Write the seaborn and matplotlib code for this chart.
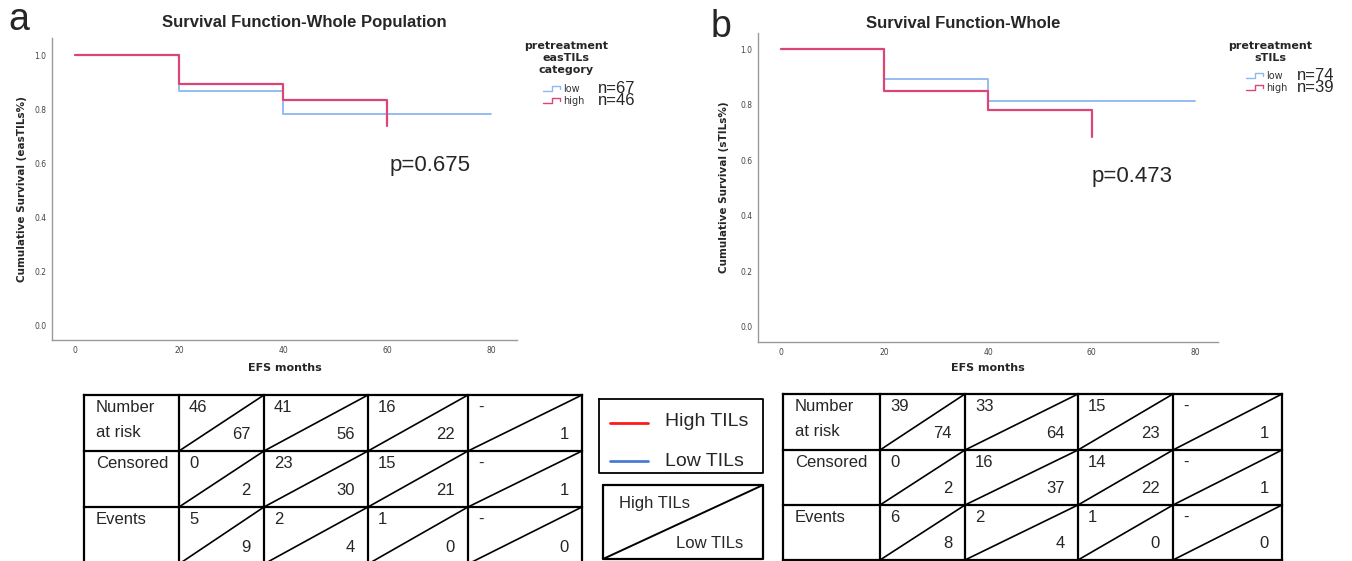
import matplotlib.pyplot as plt
import seaborn as sns

sns.set_theme(style='white')
plt.rcParams['font.family'] = ['DejaVu Sans']

# Kaplan-Meier curves
months_a_high = [0, 20, 40, 60]
surv_a_high = [1.0, 0.895, 0.834, 0.738]
months_a_low = [0, 20, 40, 80]
surv_a_low = [1.0, 0.867, 0.782, 0.782]

months_b_high = [0, 20, 40, 60]
surv_b_high = [1.0, 0.849, 0.781, 0.685]
months_b_low = [0, 20, 40, 80]
surv_b_low = [1.0, 0.891, 0.814, 0.814]

x_ticks = [0, 20, 40, 60, 80]
y_ticks = [0.0, 0.2, 0.4, 0.6, 0.8, 1.0]

# risk tables (upper = high TILs, lower = low TILs)
row_labels = [['Number', 'at risk'], ['Censored'], ['Events']]
a_high = [['46', '41', '16', '-'], ['0', '23', '15', '-'], ['5', '2', '1', '-']]
a_low = [['67', '56', '22', '1'], ['2', '30', '21', '1'], ['9', '4', '0', '0']]
b_high = [['39', '33', '15', '-'], ['0', '16', '14', '-'], ['6', '2', '1', '-']]
b_low = [['74', '64', '23', '1'], ['2', '37', '22', '1'], ['8', '4', '0', '0']]

n_a = ['n=67', 'n=46']
n_b = ['n=74', 'n=39']
p_a = 'p=0.675'
p_b = 'p=0.473'

HIGH_C = '#dc4677'
LOW_C = '#8db8f0'
W, H = 1352, 561
ARIAL = 'Liberation Sans'

fig = plt.figure(figsize=(W / 100, H / 100), dpi=100)


def px(x, y, w, h):
    return [x / W, 1 - (y + h) / H, w / W, h / H]


def km_panel(ax, mh, sh, ml, sl, xlim, ylim, ylabel, ylab_x, xlab_y):
    sns.lineplot(x=ml, y=sl, drawstyle='steps-post', color=LOW_C, lw=1.3, ax=ax)
    sns.lineplot(x=mh, y=sh, drawstyle='steps-post', color=HIGH_C, lw=1.6, ax=ax)
    ax.set_xlim(*xlim)
    ax.set_ylim(*ylim)
    ax.set_xticks(x_ticks)
    ax.set_yticks(y_ticks, [f'{v:.1f}' for v in y_ticks])
    ax.tick_params(axis='both', length=0, labelsize=5.5, labelcolor='#444', pad=4)
    sns.despine(ax=ax)
    for s in ['left', 'bottom']:
        ax.spines[s].set_color('#9a9a9a')
        ax.spines[s].set_linewidth(1.0)
    ax.set_xlabel('EFS months', fontsize=8, fontweight='bold')
    ax.set_ylabel(ylabel, fontsize=7.5, fontweight='bold')
    ax.xaxis.set_label_coords(0.5, xlab_y)
    ax.yaxis.set_label_coords(ylab_x, 0.5)


ax_a = fig.add_axes(px(52, 38, 465, 302))
km_panel(ax_a, months_a_high, surv_a_high, months_a_low, surv_a_low,
         (-4.42, 84.9), (-0.052, 1.063), 'Cumulative Survival (easTILs%)', -0.054, -0.076)

ax_b = fig.add_axes(px(758, 33, 460, 309))
km_panel(ax_b, months_b_high, surv_b_high, months_b_low, surv_b_low,
         (-4.44, 84.44), (-0.054, 1.058), 'Cumulative Survival (sTILs%)', -0.063, -0.068)

# overlay in pixel coordinates for annotations and tables
ov = fig.add_axes([0, 0, 1, 1])
ov.set_xlim(0, W)
ov.set_ylim(H, 0)
ov.axis('off')

ov.text(8, 30, 'a', fontsize=27, family=ARIAL, va='baseline')
ov.text(711, 37, 'b', fontsize=27, family=ARIAL, va='baseline')
ov.text(304, 22, 'Survival Function-Whole Population', fontsize=12, fontweight='bold',
        family=ARIAL, ha='center', va='center')
ov.text(963, 23, 'Survival Function-Whole', fontsize=12, fontweight='bold',
        family=ARIAL, ha='center', va='center')
ov.text(390, 165, p_a, fontsize=16, family=ARIAL, va='center')
ov.text(1092, 176, p_b, fontsize=16, family=ARIAL, va='center')


def spss_legend(cx, ty, title_lines, icon_x, y_low, ns, n_x):
    ov.text(cx, ty - 6, '\n'.join(title_lines), fontsize=8, fontweight='bold',
            ha='center', va='top', linespacing=1.25)
    for y, c in [(y_low, LOW_C), (y_low + 12, HIGH_C)]:
        ov.plot([icon_x, icon_x + 9, icon_x + 9, icon_x + 17, icon_x + 17],
                [y + 2, y + 2, y - 3, y - 3, y], color=c, lw=1.0)
    ov.text(icon_x + 20, y_low + 6, 'low\nhigh', fontsize=7, va='center', color='#333',
            linespacing=1.2)
    ov.text(n_x, y_low + 5.5, '\n'.join(ns), fontsize=12, family=ARIAL, va='center',
            linespacing=0.8)


spss_legend(566, 47, ['pretreatment', 'easTILs', 'category'], 543, 89, n_a, 598)
spss_legend(1270, 47, ['pretreatment', 'sTILs'], 1246, 76, n_b, 1297)


def risk_table(cols, rows, high, low):
    kw = dict(color='black', lw=1.6, solid_capstyle='projecting')
    for x in cols:
        ov.plot([x, x], [rows[0], rows[-1]], **kw)
    for y in rows:
        ov.plot([cols[0], cols[-1]], [y, y], **kw)
    for i in range(len(rows) - 1):
        top, bot = rows[i], rows[i + 1]
        lines = row_labels[i]
        ov.text(cols[0] + 12, top + 12, lines[0], fontsize=12, family=ARIAL, va='center')
        if len(lines) > 1:
            ov.text(cols[0] + 12, top + 37, lines[1], fontsize=12, family=ARIAL, va='center')
        for j in range(len(cols) - 2):
            l, r = cols[j + 1], cols[j + 2]
            ov.plot([l, r], [bot, top], color='black', lw=1.2)
            ov.text(l + 10, top + 12, high[i][j], fontsize=12, family=ARIAL, va='center')
            ov.text(r - 13, bot - 17, low[i][j], fontsize=12, family=ARIAL,
                    ha='right', va='center')


risk_table([84, 179, 264, 368, 468, 582], [395, 451, 507, 564], a_high, a_low)
risk_table([783, 880, 965, 1078, 1173, 1282], [394, 450, 505, 560], b_high, b_low)

# key boxes in the middle
ov.plot([599, 763, 763, 599, 599], [399, 399, 473, 473, 399], color='black', lw=1.3)
ov.plot([610, 648], [423, 423], color='#ff1a1a', lw=2)
ov.plot([610, 648], [461, 461], color='#4a7bd0', lw=2)
ov.text(665, 421, 'High TILs', fontsize=14, family=ARIAL, va='center')
ov.text(665, 461, 'Low TILs', fontsize=14, family=ARIAL, va='center')

ov.plot([603, 763, 763, 603, 603], [485, 485, 559, 559, 485], color='black', lw=1.6)
ov.plot([603, 763], [559, 485], color='black', lw=1.4)
ov.text(619, 503, 'High TILs', fontsize=12, family=ARIAL, va='center')
ov.text(676, 544, 'Low TILs', fontsize=12, family=ARIAL, va='center')

fig.savefig('out.png', dpi=100)
